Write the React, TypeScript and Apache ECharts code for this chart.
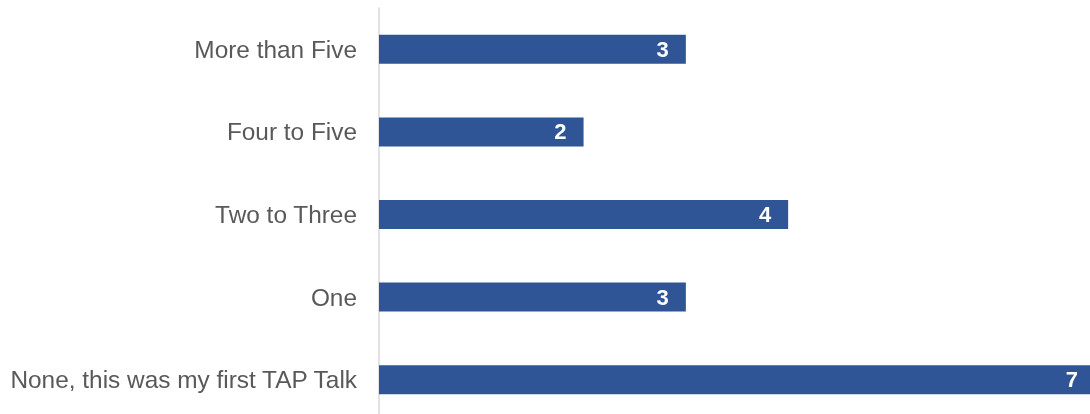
import React, { useEffect, useRef } from "react";
import * as echarts from "echarts";

const categories = [
  "More than Five",
  "Four to Five",
  "Two to Three",
  "One",
  "None, this was my first TAP Talk",
];
const counts = [3, 2, 4, 3, 7];

export default function App() {
  const ref = useRef<HTMLDivElement>(null);
  useEffect(() => {
    if (!ref.current) return;
    const chart = echarts.init(ref.current, null, { renderer: "svg" });
    chart.setOption({
      animation: false,
      grid: { left: 379, top: 8, width: 716, height: 413, containLabel: false },
      xAxis: {
        type: "value",
        min: 0,
        max: 7,
        show: false,
      },
      yAxis: {
        type: "category",
        data: categories,
        inverse: true,
        axisLine: { show: true, lineStyle: { color: "#d9d9d9", width: 1.5 } },
        axisTick: { show: false },
        axisLabel: {
          color: "#595959",
          fontSize: 24.4,
          fontFamily: "Liberation Sans, Arial, sans-serif",
          margin: 22,
        },
      },
      series: [
        {
          type: "bar",
          data: counts,
          barWidth: 29,
          itemStyle: { color: "#2F5597" },
          label: {
            show: true,
            position: "insideRight",
            distance: 17,
            color: "#ffffff",
            fontWeight: "bold",
            fontSize: 22,
            fontFamily: "Liberation Sans, Arial, sans-serif",
          },
        },
      ],
    });
    return () => chart.dispose();
  }, []);
  return (
    <div style={{ position: "fixed", left: 0, top: 0, width: 1090, height: 414, overflow: "hidden" }}>
      <div ref={ref} style={{ width: 1100, height: 430 }} />
    </div>
  );
}
